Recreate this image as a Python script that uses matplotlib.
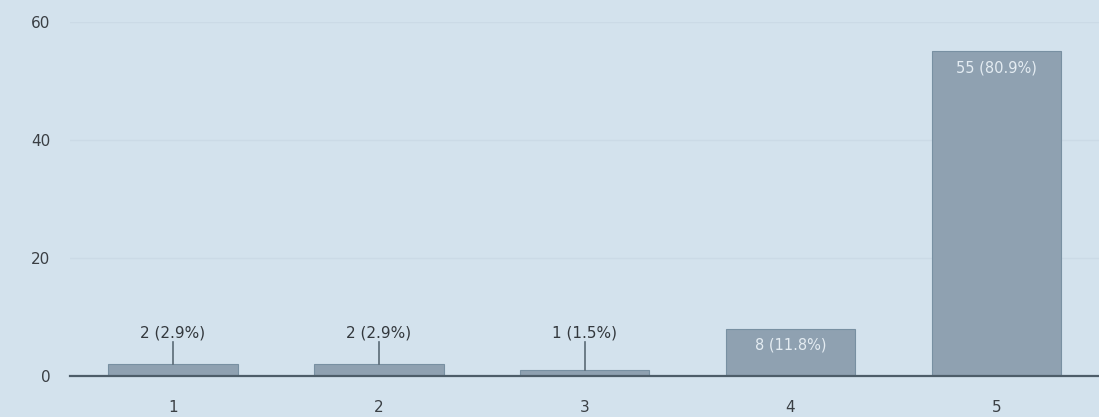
import matplotlib
matplotlib.use("Agg")
import matplotlib.pyplot as plt

categories = ["1", "2", "3", "4", "5"]
counts = [2, 2, 1, 8, 55]
yticks = [0, 20, 40, 60]

total = sum(counts)
labels = [f"{c} ({c / total * 100:.1f}%)" for c in counts]

bg = "#d3e2ed"
bar_color = "#8fa1b1"
fig = plt.figure(figsize=(10.99, 4.17), dpi=100, facecolor=bg)
ax = fig.add_axes([70 / 1099, 41 / 417, 1 - 70 / 1099 + 0.004, (376 - 22) / 417])
ax.set_facecolor(bg)

x = list(range(1, len(categories) + 1))
ax.bar(x, counts, width=0.63, color=bar_color, edgecolor="#7890a2", linewidth=0.8, zorder=3)
ax.set_xlim(0.5, 5.52)
ax.set_ylim(0, 60)
ax.set_yticks(yticks)
ax.set_xticks(x)
ax.set_xticklabels(categories)
for s in ["top", "right", "left"]:
    ax.spines[s].set_visible(False)
ax.spines["bottom"].set_color("#4d5d69")
ax.spines["bottom"].set_linewidth(1.6)
ax.spines["bottom"].set_zorder(4)
ax.tick_params(axis="both", length=0, labelsize=11, colors="#3a3f44")
ax.tick_params(axis="y", pad=14)
ax.tick_params(axis="x", pad=17)
for t in yticks[1:]:
    ax.axhline(t, color="#cbdae6", linewidth=1.0, zorder=1)

for xi, c, lab in zip(x, counts, labels):
    if c >= 5:
        ax.text(xi, c - 1.5, lab, ha="center", va="top", fontsize=10.5,
                color="#e4ecf2", zorder=5)
    else:
        ax.plot([xi, xi], [c, 5.8], color="#5a6a76", linewidth=1.2, zorder=4)
        ax.text(xi, 6.0, lab, ha="center", va="bottom", fontsize=11,
                color="#33383d", zorder=5)

fig.savefig("out.png", dpi=100, facecolor=bg)
